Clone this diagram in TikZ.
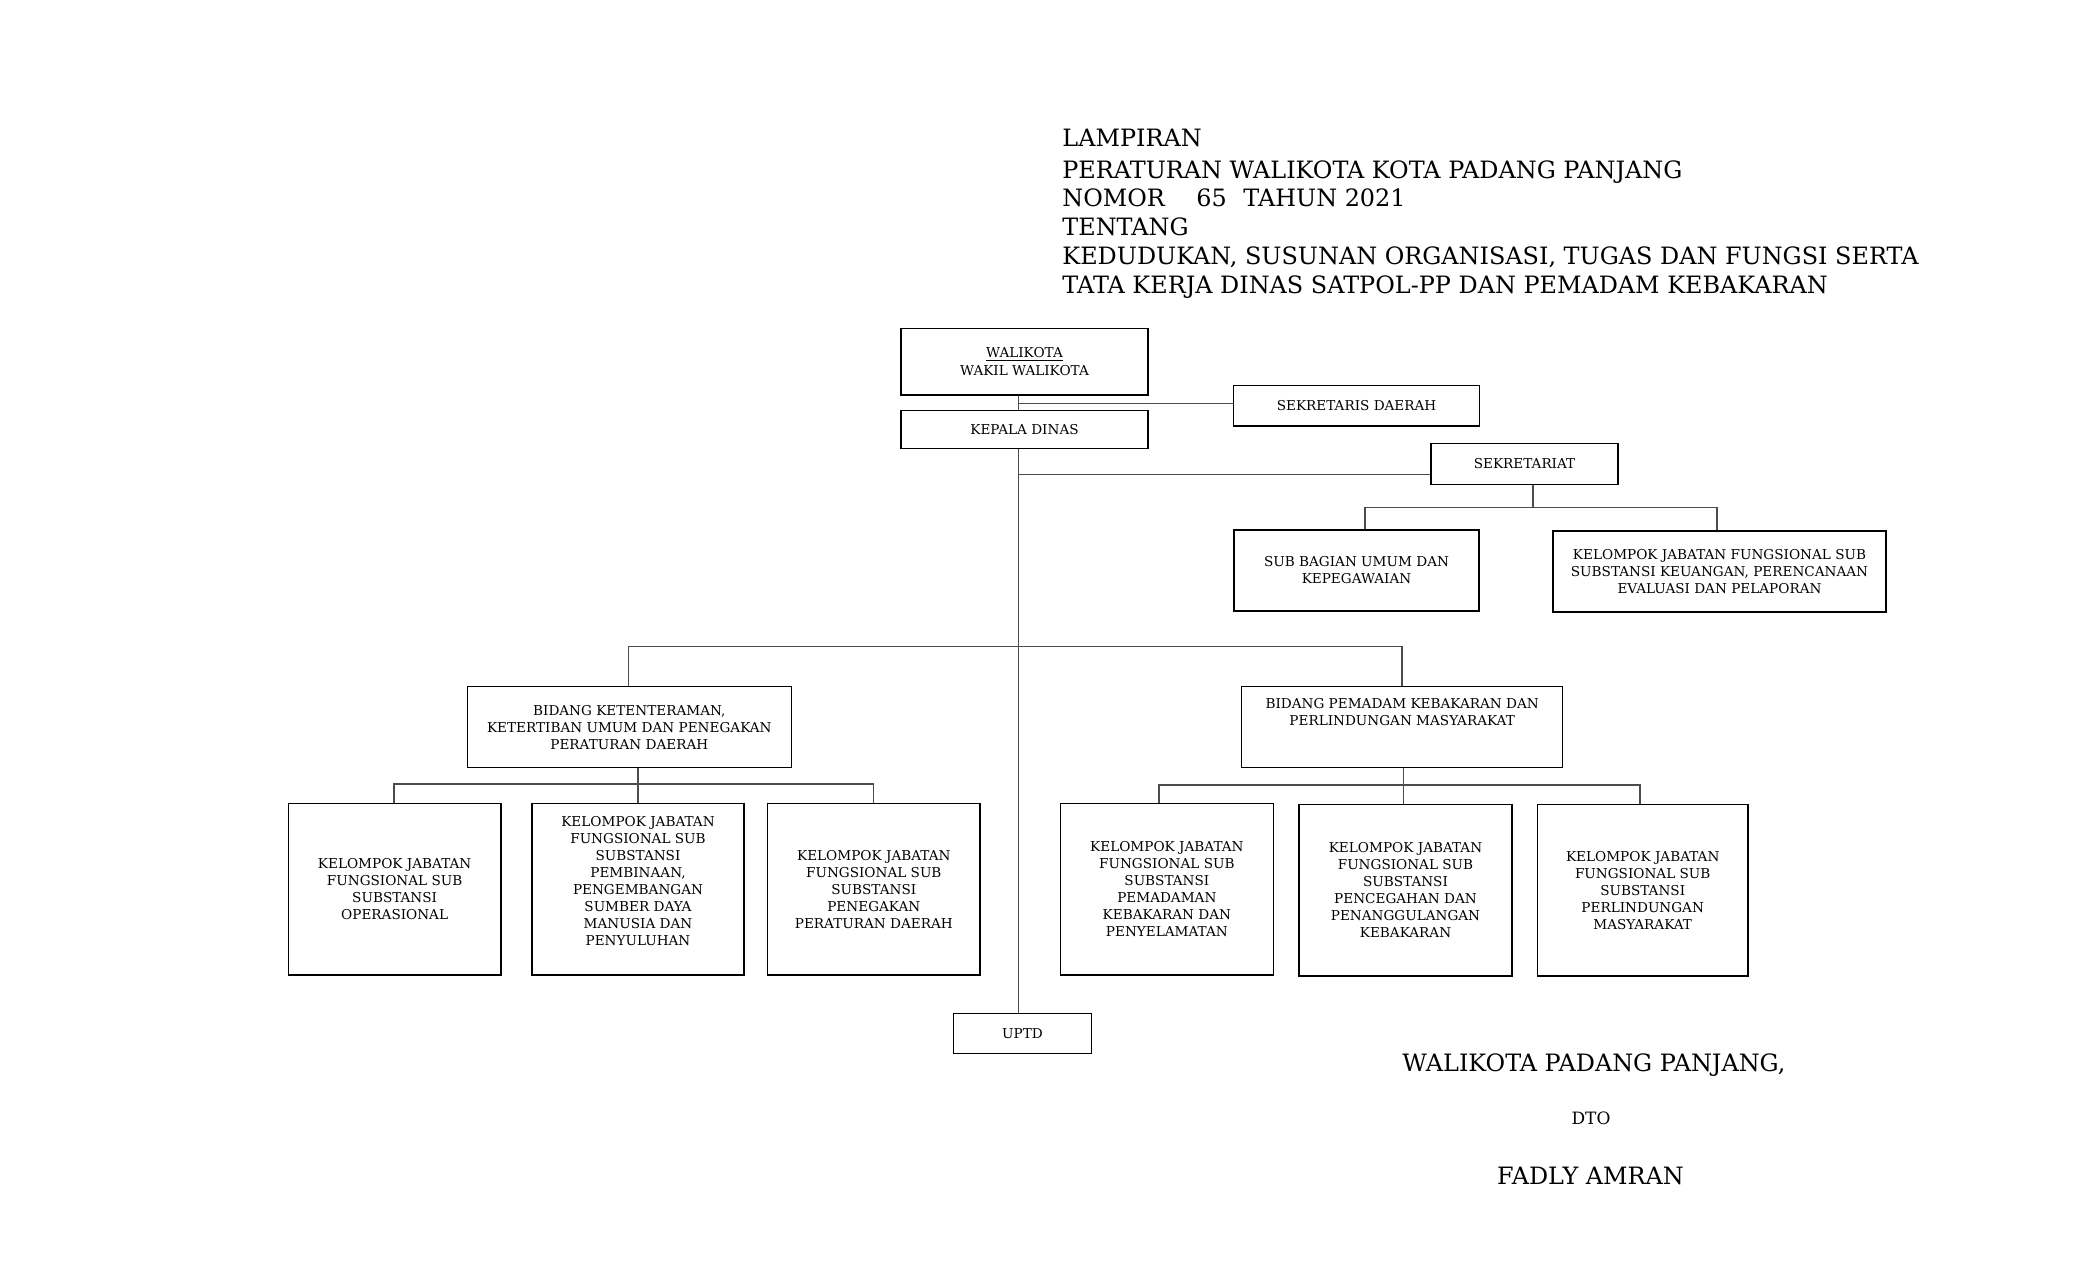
\documentclass[tikz,border=0pt]{standalone}
\usepackage{fontspec}
\setmainfont{DejaVu Serif}
\newcommand{\boxfont}{\fontsize{6.8pt}{8.5pt}\selectfont}
\newcommand{\titlefont}{\fontsize{11.95pt}{14pt}\selectfont}
\tikzset{
  box/.style={draw, line width=0.7pt, inner sep=0pt, align=center, font=\boxfont},
  conn/.style={draw=black!70, line width=0.6pt},
  ttl/.style={anchor=base west, inner sep=0pt, font=\titlefont},
  sig/.style={anchor=base, inner sep=0pt, font=\titlefont}
}
\begin{document}
\begin{tikzpicture}[x=0.5pt, y=-0.5pt]
\useasboundingbox (0,0) rectangle (2100,1275);
% title
\node[ttl] (t1) at (1062,146) {LAMPIRAN};
\node[ttl] (t2) at (1062,178.5) {PERATURAN WALIKOTA KOTA PADANG PANJANG};
\node[ttl] (t3a) at (1062,206.5) {NOMOR};
\node[ttl] (t3b) at (1196,206.5) {65};
\node[ttl] (t3c) at (1243,206.5) {TAHUN 2021};
\node[ttl] (t4) at (1062,235.3) {TENTANG};
\node[ttl] (t5) at (1062,264.2) {KEDUDUKAN, SUSUNAN ORGANISASI, TUGAS DAN FUNGSI SERTA};
\node[ttl] (t6) at (1062,293) {TATA KERJA DINAS SATPOL-PP DAN PEMADAM KEBAKARAN};
% boxes
\node[box, minimum width=123.5pt, minimum height=33.35pt] (wali) at (1024.5,361.65) {\underline{WALIKOTA}\\[0.6pt]WAKIL WALIKOTA};
\node[box, minimum width=123.05pt, minimum height=20.15pt] (sekda) at (1356.55,405.85) {SEKRETARIS DAERAH};
\node[box, minimum width=123.5pt, minimum height=18.8pt] (kadis) at (1024.5,429.5) {KEPALA DINAS};
\node[box, minimum width=93.5pt, minimum height=20.5pt] (sekre) at (1524.5,463.8) {SEKRETARIAT};
\node[box, minimum width=122.5pt, minimum height=40.5pt] (subbag) at (1356.5,570.5) {SUB BAGIAN UMUM DAN\\KEPEGAWAIAN};
\node[box, minimum width=166.5pt, minimum height=40.5pt] (keu) at (1719.5,571.5) {KELOMPOK JABATAN FUNGSIONAL SUB\\SUBSTANSI KEUANGAN, PERENCANAAN\\EVALUASI DAN PELAPORAN};
\node[box, minimum width=162pt, minimum height=40.5pt] (bket) at (629.3,727.2) {BIDANG KETENTERAMAN,\\KETERTIBAN UMUM DAN PENEGAKAN\\PERATURAN DAERAH};
\node[box, minimum width=160.45pt, minimum height=40.3pt] (bpem) at (1402.15,727) {\parbox[c][40.3pt][t]{160pt}{\centering\vspace*{6pt}BIDANG PEMADAM KEBAKARAN DAN\\PERLINDUNGAN MASYARAKAT}};
\node[box, minimum width=106.35pt, minimum height=85.85pt] (k1) at (394.65,889.15) {KELOMPOK JABATAN\\FUNGSIONAL SUB\\SUBSTANSI\\OPERASIONAL};
\node[box, minimum width=106pt, minimum height=85.85pt] (k2) at (638,889.15) {\parbox[c][85.85pt][c]{105pt}{\centering KELOMPOK JABATAN\\FUNGSIONAL SUB\\SUBSTANSI\\PEMBINAAN,\\PENGEMBANGAN\\SUMBER DAYA\\MANUSIA DAN\\PENYULUHAN\par\vspace{8pt}}};
\node[box, minimum width=106.2pt, minimum height=85.85pt] (k3) at (873.8,889.15) {KELOMPOK JABATAN\\FUNGSIONAL SUB\\SUBSTANSI\\PENEGAKAN\\PERATURAN DAERAH};
\node[box, minimum width=106.55pt, minimum height=85.85pt] (k4) at (1166.85,889.15) {KELOMPOK JABATAN\\FUNGSIONAL SUB\\SUBSTANSI\\PEMADAMAN\\KEBAKARAN DAN\\PENYELAMATAN};
\node[box, minimum width=106.5pt, minimum height=85.85pt] (k5) at (1405.5,890.15) {KELOMPOK JABATAN\\FUNGSIONAL SUB\\SUBSTANSI\\PENCEGAHAN DAN\\PENANGGULANGAN\\KEBAKARAN};
\node[box, minimum width=105.3pt, minimum height=85.85pt] (k6) at (1642.7,890.15) {KELOMPOK JABATAN\\FUNGSIONAL SUB\\SUBSTANSI\\PERLINDUNGAN\\MASYARAKAT};
\node[box, minimum width=69.2pt, minimum height=20pt] (uptd) at (1022.5,1033.3) {UPTD};
% connector points
\coordinate (m) at (1018.3,0);
\coordinate (j1) at (1018.3,403.3);
\coordinate (j2) at (1018.3,474.3);
\coordinate (s) at (1533,507.3);
\coordinate (sl) at (1365,507.3);
\coordinate (sr) at (1717,507.3);
\coordinate (bl) at (628.5,646.5);
\coordinate (br) at (1402,646.5);
\coordinate (lv) at (638,784);
\coordinate (ll) at (394,784);
\coordinate (lr) at (873.5,784);
\coordinate (rv) at (1403.7,785);
\coordinate (rl) at (1159,785);
\coordinate (rr) at (1640,785);
% connectors
\draw[conn] (wali.south -| m) -- (kadis.north -| m);
\draw[conn] (j1) -- (j1 -| sekda.west);
\draw[conn] (kadis.south -| m) -- (uptd.north -| m);
\draw[conn] (j2) -- (j2 -| sekre.west);
\draw[conn] (sekre.south -| s) -- (s);
\draw[conn] (subbag.north -| sl) -- (sl) -- (sr) -- (keu.north -| sr);
\draw[conn] (bket.north -| bl) -- (bl) -- (br) -- (bpem.north -| br);
\draw[conn] (bket.south -| lv) -- (lv) -- (k2.north -| lv);
\draw[conn] (k1.north -| ll) -- (ll) -- (lr) -- (k3.north -| lr);
\draw[conn] (bpem.south -| rv) -- (rv) -- (k5.north -| rv);
\draw[conn] (k4.north -| rl) -- (rl) -- (rr) -- (k6.north -| rr);
% signature
\node[sig] (w) at (1594,1071) {WALIKOTA PADANG PANJANG,};
\node[sig, font=\fontsize{8.5pt}{10pt}\selectfont] (dto) at (1591,1124) {DTO};
\node[sig] (fa) at (1590.5,1184) {FADLY AMRAN};
\end{tikzpicture}
\end{document}
